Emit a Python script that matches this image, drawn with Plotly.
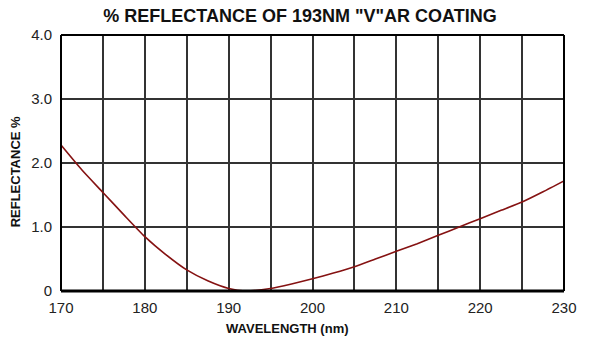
import plotly.graph_objects as go

# Reflectance curve of the 193 nm "V" AR coating
wavelength_nm = [170, 172.5, 175, 177.5, 180, 182.5, 185, 187.5, 190, 192,
                 195, 197.5, 200, 202.5, 205, 207.5, 210, 212.5, 215,
                 217.5, 220, 222.5, 225, 227.5, 230]
reflectance_pct = [2.28, 1.89, 1.54, 1.19, 0.85, 0.57, 0.33, 0.16, 0.04, 0.0,
                   0.04, 0.11, 0.19, 0.28, 0.38, 0.50, 0.62, 0.74, 0.87,
                   1.00, 1.13, 1.26, 1.39, 1.55, 1.72]

x_grid = list(range(170, 231, 5))
x_labels = [str(v) if v % 10 == 0 else "" for v in x_grid]
y_ticks = [0, 1, 2, 3, 4]
y_labels = ["0", "1.0", "2.0", "3.0", "4.0"]

FONT = "Liberation Sans, Arial, sans-serif"
W, H = 589, 348
L, R, T, B = 61, 21, 35, 57
PW, PH = W - L - R, H - T - B


def px_to_paper(px, py):
    """Convert figure pixel coordinates to plot-area paper coordinates."""
    return (px - L) / PW, (H - B - py) / PH


fig = go.Figure()
fig.add_trace(go.Scatter(
    x=wavelength_nm, y=reflectance_pct, mode="lines",
    line=dict(color="#851212", width=1.6, shape="spline", smoothing=0.6),
    showlegend=False, hoverinfo="skip",
))

xt_x, xt_y = px_to_paper(289, 328)
yt_x, yt_y = px_to_paper(15, 172)

fig.update_layout(
    width=W, height=H,
    margin=dict(l=L, r=R, t=T, b=B),
    paper_bgcolor="white", plot_bgcolor="white",
    font=dict(family=FONT, color="#1a1a1a"),
    title=dict(text="<b>% REFLECTANCE OF 193NM \"V\"AR COATING</b>",
               x=300 / W, xanchor="center", y=1 - 16 / H, yanchor="middle",
               font=dict(size=18, color="#111")),
    xaxis=dict(range=[170, 230], tickvals=x_grid, ticktext=x_labels,
               showgrid=True, gridcolor="#333", gridwidth=1.5,
               ticks="", ticklabelstandoff=6, tickfont=dict(size=15, color="#222"),
               showline=False, zeroline=False, fixedrange=True),
    yaxis=dict(range=[0, 4], tickvals=y_ticks, ticktext=y_labels,
               showgrid=True, gridcolor="#333", gridwidth=1.5,
               ticks="", ticklabelstandoff=8, tickfont=dict(size=15, color="#222"),
               showline=False, zeroline=False, fixedrange=True),
    annotations=[
        dict(text="<b>WAVELENGTH (nm)</b>", xref="paper", yref="paper",
             x=xt_x, y=xt_y, xanchor="center", yanchor="middle",
             showarrow=False, font=dict(size=13, color="#111")),
        dict(text="<b>REFLECTANCE %</b>", xref="paper", yref="paper",
             x=yt_x, y=yt_y, xanchor="center", yanchor="middle",
             textangle=-90, showarrow=False, font=dict(size=13, color="#111")),
    ],
    shapes=[
        # frame: heavier baseline, thinner top/sides
        dict(type="line", xref="paper", yref="paper", x0=0, x1=1, y0=1, y1=1,
             line=dict(color="black", width=2)),
        dict(type="line", xref="paper", yref="paper", x0=0, x1=0, y0=0, y1=1,
             line=dict(color="black", width=2)),
        dict(type="line", xref="paper", yref="paper", x0=1, x1=1, y0=0, y1=1,
             line=dict(color="black", width=2)),
        dict(type="line", xref="paper", yref="paper", x0=0, x1=1, y0=0, y1=0,
             line=dict(color="black", width=3)),
    ],
)

fig.write_html("out.html")
